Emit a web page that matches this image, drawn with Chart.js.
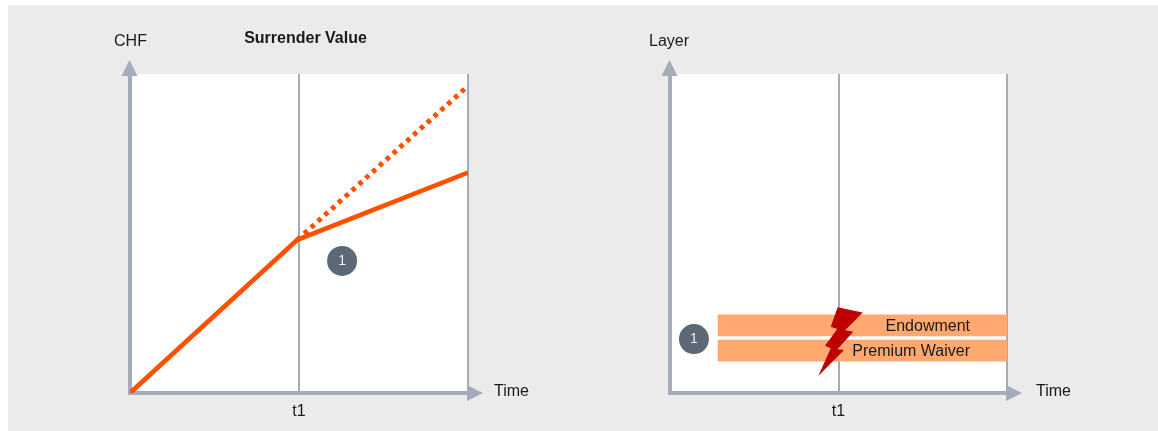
<!DOCTYPE html>
<html lang="en">
  <head>
    <meta charset="utf-8" />
    <title>Surrender Value</title>
    <script src="https://cdn.jsdelivr.net/npm/chart.js"></script>
    <style>
      html, body { margin: 0; padding: 0; background: #fff; }
      #panel { position: absolute; left: 8px; top: 5px; width: 1150px; height: 426px; background: #ebebeb; }
      canvas { position: absolute; top: 0; }
      #valueChart { left: 0; }
      #layerChart { left: 579px; }
    </style>
  </head>
  <body>
    <div id="panel"></div>
    <canvas id="valueChart" width="579" height="431"></canvas>
    <canvas id="layerChart" width="579" height="431"></canvas>
    <script>
      const timeTicks = [0, 1, 2];
      const timeLabels = ["", "t1", ""];

      const reducedTime = [0, 0.99, 2];
      const reducedValue = [0, 48, 69.1];
      const originalTime = [0.99, 1.98];
      const originalValue = [48, 95.3];
      const valueBadge = [1.255, 41.4];

      const layerNames = ["Endowment", "Premium Waiver"];
      const layerStart = [0.285, 0.285];
      const layerEnd = [2, 2];
      const layerLevel = [21.2, 13.3];
      const layerBadge = [0.142, 16.9];

      const boltTime = [0.995, 1.144, 1.039, 1.088, 0.993, 1.033, 0.88, 0.954, 0.92, 0.993, 0.954];
      const boltLayer = [26.9, 25.2, 19.7, 19.2, 13.7, 13.5, 5.3, 14.0, 14.8, 20.1, 20.8];

      const AXIS = "#a5abb8";
      const ORANGE = "#ff5000";
      const BAND = "#ffa970";
      const TEXT = "#1a1a1a";
      const FONT = '16px "Liberation Sans", Arial, sans-serif';

      function toPoints(xs, ys) {
        return xs.map((x, i) => ({ x: x, y: ys[i] }));
      }

      function triangle(c, x1, y1, x2, y2, x3, y3) {
        c.beginPath();
        c.moveTo(x1, y1);
        c.lineTo(x2, y2);
        c.lineTo(x3, y3);
        c.closePath();
        c.fill();
      }

      function write(c, text, x, y, align) {
        c.fillStyle = TEXT;
        c.font = FONT;
        c.textAlign = align || "center";
        c.textBaseline = "middle";
        c.fillText(text, x, y);
      }

      // white plot area, drawn under the grid
      const plotBackground = {
        id: "plotBackground",
        beforeDraw(chart) {
          const a = chart.chartArea;
          const c = chart.ctx;
          c.fillStyle = "#fff";
          c.fillRect(a.left, a.top, a.right - a.left, a.bottom - a.top);
        },
      };

      // arrow heads and the axis names
      const axisDecor = {
        id: "axisDecor",
        afterDraw(chart, args, opts) {
          const a = chart.chartArea;
          const c = chart.ctx;
          c.save();
          c.fillStyle = AXIS;
          triangle(c, a.left - 0.5, a.top - 14, a.left - 8.5, a.top + 2, a.left + 7.5, a.top + 2);
          triangle(c, a.right + 15, a.bottom, a.right - 1, a.bottom - 8, a.right - 1, a.bottom + 8);
          write(c, opts.yName, a.left + opts.yNameShift, 41.5);
          write(c, "Time", a.right + opts.timeShift, a.bottom - 1, "left");
          if (opts.title) {
            c.fillStyle = TEXT;
            c.font = 'bold 16px "Liberation Sans", Arial, sans-serif';
            c.textAlign = "center";
            c.textBaseline = "middle";
            c.fillText(opts.title, 305.5, 38.5);
          }
          c.restore();
        },
      };

      // numbered circle, placed through the scales
      const badge = {
        id: "badge",
        afterDatasetsDraw(chart, args, opts) {
          const c = chart.ctx;
          const x = chart.scales.x.getPixelForValue(opts.at[0]);
          const y = chart.scales.y.getPixelForValue(opts.at[1]);
          c.save();
          c.fillStyle = "#5c6873";
          c.beginPath();
          c.arc(x, y, 15, 0, Math.PI * 2);
          c.fill();
          c.fillStyle = "#eef0f2";
          c.font = '14px "Liberation Sans", Arial, sans-serif';
          c.textAlign = "center";
          c.textBaseline = "middle";
          c.fillText("1", x, y + 0.5);
          c.restore();
        },
      };

      // lightning bolt and band captions on the layer chart
      const layerExtras = {
        id: "layerExtras",
        afterDatasetsDraw(chart) {
          const c = chart.ctx;
          const sx = chart.scales.x;
          const sy = chart.scales.y;
          c.save();
          chart.getDatasetMeta(0).data.forEach((bar, i) => {
            write(c, layerNames[i], bar.x - 37, bar.y + 1, "right");
          });
          c.fillStyle = "#c00000";
          c.beginPath();
          boltTime.forEach((t, i) => {
            c.lineTo(sx.getPixelForValue(t), sy.getPixelForValue(boltLayer[i]));
          });
          c.closePath();
          c.fill();
          c.restore();
        },
      };

      function scales() {
        return {
          x: {
            type: "linear",
            min: 0,
            max: 2,
            afterBuildTicks(axis) {
              axis.ticks = timeTicks.map((v) => ({ value: v }));
            },
            afterFit(axis) {
              axis.height = 38;
            },
            border: { color: AXIS, width: 4 },
            grid: { color: AXIS, lineWidth: 2, drawTicks: false },
            ticks: {
              color: TEXT,
              font: { family: "Liberation Sans", size: 16 },
              padding: 9,
              maxRotation: 0,
              autoSkip: false,
              callback: (v) => timeLabels[timeTicks.indexOf(v)],
            },
          },
          y: {
            type: "linear",
            min: 0,
            max: 100,
            offset: false,
            afterFit(axis) {
              axis.width = 10;
            },
            border: { color: AXIS, width: 4 },
            grid: { display: false },
            ticks: { display: false },
          },
        };
      }

      new Chart(document.getElementById("valueChart"), {
        type: "line",
        data: {
          datasets: [
            {
              label: "Surrender value",
              data: toPoints(reducedTime, reducedValue),
              borderColor: ORANGE,
              borderWidth: 4.7,
              pointRadius: 0,
            },
            {
              label: "Without event",
              data: toPoints(originalTime, originalValue),
              borderColor: ORANGE,
              borderWidth: 5,
              borderDash: [4.5, 4.7],
              pointRadius: 0,
            },
          ],
        },
        options: {
          responsive: false,
          animation: false,
          layout: { padding: { left: 120, right: 111, top: 74, bottom: 0 } },
          scales: scales(),
          plugins: {
            legend: { display: false },
            tooltip: { enabled: false },
            axisDecor: { yName: "CHF", yNameShift: 0.5, timeShift: 26, title: "Surrender Value" },
            badge: { at: valueBadge },
          },
        },
        plugins: [plotBackground, axisDecor, badge],
      });

      new Chart(document.getElementById("layerChart"), {
        type: "bar",
        data: {
          datasets: [
            {
              label: "Layers",
              data: layerLevel.map((v, i) => ({ x: [layerStart[i], layerEnd[i]], y: v })),
              backgroundColor: BAND,
              barThickness: 21,
            },
          ],
        },
        options: {
          indexAxis: "y",
          responsive: false,
          animation: false,
          layout: { padding: { left: 81, right: 151, top: 74, bottom: 0 } },
          scales: scales(),
          plugins: {
            legend: { display: false },
            tooltip: { enabled: false },
            axisDecor: { yName: "Layer", yNameShift: -1, timeShift: 29 },
            badge: { at: layerBadge },
          },
        },
        plugins: [plotBackground, axisDecor, badge, layerExtras],
      });
    </script>
  </body>
</html>
